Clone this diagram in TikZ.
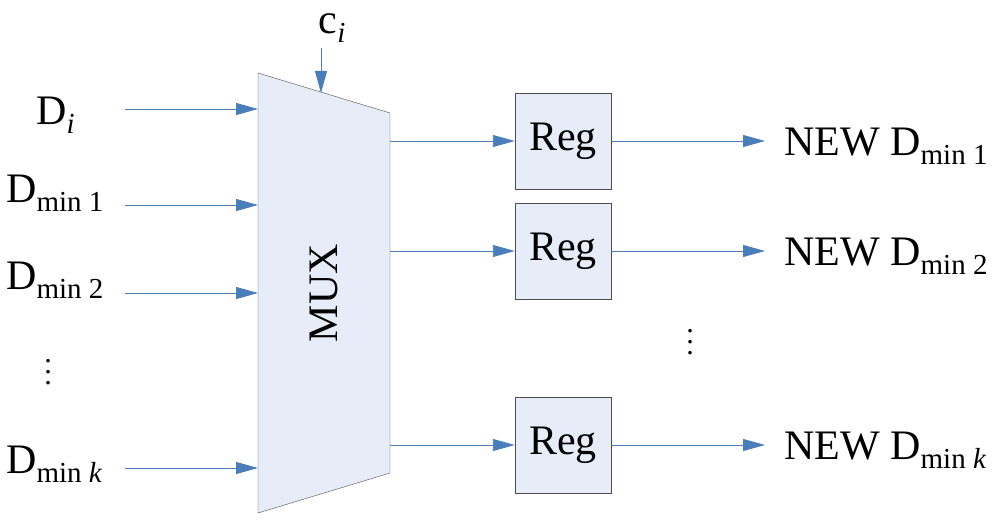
\documentclass[tikz,border=0pt]{standalone}
\usepackage{fontspec}
\setmainfont{Liberation Serif}
\usetikzlibrary{arrows.meta}
\definecolor{ln}{HTML}{4A7EBB}
\definecolor{fl}{HTML}{E6EDF8}
\newcommand{\sbs}[1]{\raisebox{-0.22em}{\fontsize{29}{29}\selectfont #1}}
\begin{document}
\begin{tikzpicture}[x=1pt,y=-1pt,
 ar/.style={draw=ln,line width=0.9pt,-{Triangle[length=22pt,width=12pt]}},
 reg/.style={draw=black!70,fill=fl,minimum width=96pt,minimum height=96pt,font=\fontsize{42}{42}\selectfont},
 lab/.style={font=\fontsize{42}{42}\selectfont,inner sep=0pt}]
\useasboundingbox (0,0) rectangle (1000,521);
\draw[draw=black!70,fill=fl] (258,73) -- (390,113) -- (390,473) -- (258,513) -- cycle;
\node[rotate=90,lab] (mux) at (324,293) {MUX};
\coordinate (c0) at (321,48); \coordinate (c1) at (321,93);
\draw[ar] (c0) -- (c1);
\node[lab,anchor=south] (ci) at (332,43) {c\sbs{\textit{i}}};
\foreach \y/\n in {109/a,205/b,293/c,468/d}{
 \coordinate (s\n) at (125,\y); \coordinate (e\n) at (258,\y);
 \draw[ar] (s\n) -- (e\n);}
\node[lab,anchor=west] (l1) at (36,115) {D\sbs{\textit{i}}};
\node[lab,anchor=west] (l2) at (6,193) {D\sbs{min 1}};
\node[lab,anchor=west] (l3) at (6,280) {D\sbs{min 2}};
\node[lab,anchor=west] (l4) at (6,464) {D\sbs{min \textit{k}}};
\node[lab,font=\fontsize{30}{11}\selectfont,align=center] (v1) at (48,372) {.\\.\\.};
\node[lab,font=\fontsize{30}{11}\selectfont,align=center] (v2) at (690,342) {.\\.\\.};
\foreach \y/\n/\t in {141/1/{1},251/2/{2},445/3/{\textit{k}}}{
 \node[reg] (r\n) at (563,\y) {Reg};
 \coordinate (m\n) at (390,\y);
 \draw[ar] (m\n) -- (r\n.west);
 \coordinate (o\n) at (765,\y);
 \draw[ar] (r\n.east) -- (o\n);
 \node[lab,anchor=west] (n\n) at (784,\y+5) {NEW D\sbs{min \t}};}
\end{tikzpicture}
\end{document}
